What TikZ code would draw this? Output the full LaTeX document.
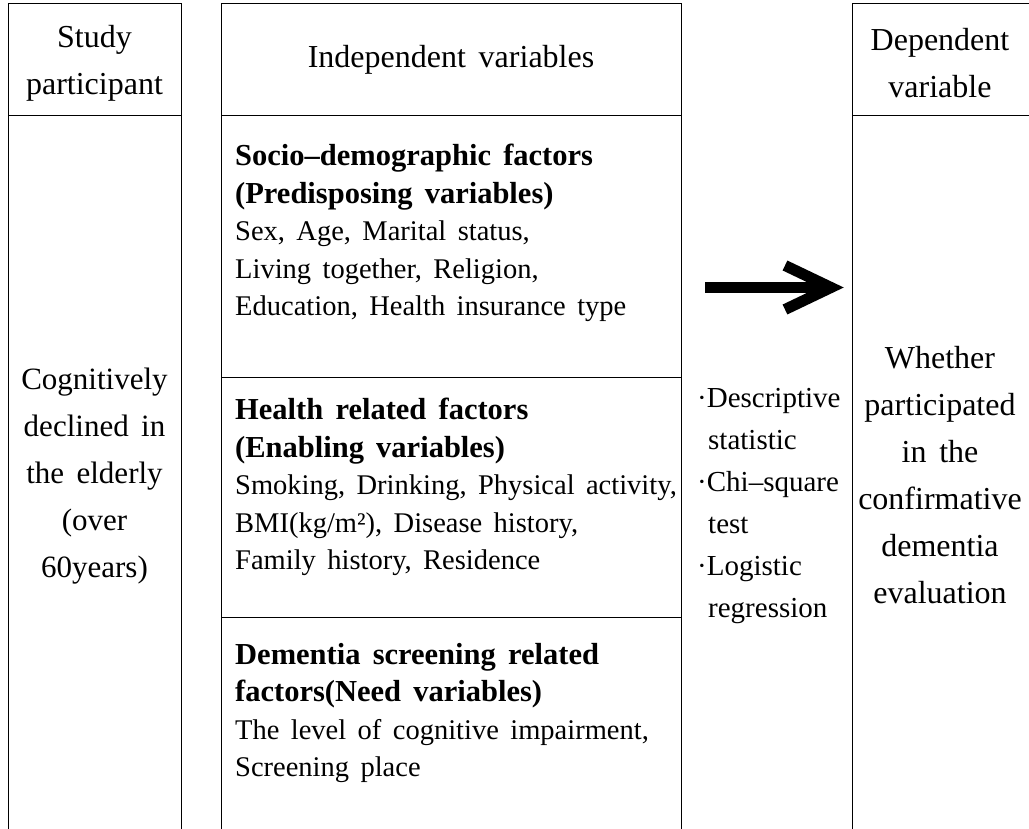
\documentclass[tikz,border=0pt]{standalone}
\usepackage{fontspec}
\setmainfont{Liberation Serif}[WordSpace=1.6]
\newcommand{\bigtxt}{\fontsize{32}{47}\selectfont}
\newcommand{\bodytxt}{\fontsize{28.5}{37.5}\selectfont}
\newcommand{\stattxt}{\fontsize{29}{42}\selectfont}
\newcommand{\fhead}[1]{{\fontsize{30.5}{37.5}\selectfont\bfseries #1}}
\begin{document}
\begin{tikzpicture}[x=1pt,y=-1pt,
    rule/.style={line width=1pt},
    bigtext/.style={font=\bigtxt, align=center, inner sep=0pt},
    factor/.style={font=\bodytxt, align=left, anchor=west, inner sep=0pt},
    stats/.style={font=\stattxt, align=left, anchor=west, inner sep=0pt}]
  \useasboundingbox (0,0) rectangle (1029,829);
  % column frames, open at the bottom
  \draw[rule] (8,829) |- (181,4) -- (181,829);
  \draw[rule] (8,116) -- (181,116);
  \draw[rule] (221,829) |- (681,4) -- (681,829);
  \draw[rule] (221,116) -- (681,116);
  \draw[rule] (221,377) -- (681,377);
  \draw[rule] (221,617) -- (681,617);
  \draw[rule] (852,829) |- (1029,4);
  \draw[rule] (852,116) -- (1029,116);
  % headers
  \node[bigtext] (participant) at (94.5,63) {Study\\participant};
  \node[bigtext] (independent) at (451,60) {Independent variables};
  \node[bigtext] (dependent) at (940,63) {Dependent\\variable};
  % column contents
  \node[bigtext, font=\fontsize{31}{47}\selectfont] (elderly) at (94.5,476) {Cognitively\\declined in\\the elderly\\(over\\60years)};
  \node[factor] (socio) at (235,233) {\fhead{Socio–demographic factors}\\
    \fhead{(Predisposing variables)}\\
    Sex, Age, Marital status,\\
    Living together, Religion,\\
    Education, Health insurance type};
  \node[factor] (health) at (235,487) {\fhead{Health related factors}\\
    \fhead{(Enabling variables)}\\
    Smoking, Drinking, Physical activity,\\
    BMI(kg/m²), Disease history,\\
    Family history, Residence};
  \node[factor] (screening) at (235,713) {\fhead{Dementia screening related}\\
    \fhead{factors(Need variables)}\\
    The level of cognitive impairment,\\
    Screening place};
  \node[stats] (analysis) at (697,506) {·Descriptive\\
    \hspace*{11pt}statistic\\
    ·Chi–square\\
    \hspace*{11pt}test\\
    ·Logistic\\
    \hspace*{11pt}regression};
  \node[bigtext] (outcome) at (940,475) {Whether\\participated\\in the\\confirmative\\dementia\\evaluation};
  % thick arrow towards the outcome
  \coordinate (tail) at (705,287.5);
  \coordinate (shaftend) at (821,287.5);
  \coordinate (tip) at (831,287.5);
  \draw[line width=11pt] (tail) -- (shaftend);
  \draw[line width=11pt] (785,265.5) -- (tip) -- (785,309.5);
\end{tikzpicture}
\end{document}
